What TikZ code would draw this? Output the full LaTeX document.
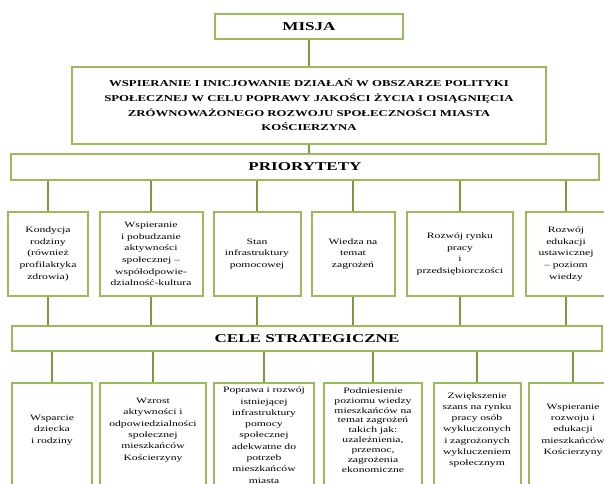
\documentclass[tikz,border=0pt]{standalone}
\usepackage{fontspec}
\setmainfont{Liberation Serif}[FakeStretch=1.42]
\usepackage{tikz}
\definecolor{ramka}{RGB}{155,187,89}
\definecolor{linia}{RGB}{122,155,66}
\newcommand{\odstep}{\endgraf\vspace*{56pt}}
\tikzstyle{box} = [rectangle, draw=ramka, line width=2pt, align=center, inner sep=2pt]
\tikzstyle{head} = [box, font=\fontsize{12}{14}\selectfont\bfseries]
\tikzstyle{prio} = [box, minimum height=84pt, font=\fontsize{8.2}{11.7}\selectfont]
\tikzstyle{cel} = [box, anchor=north, minimum height=150pt, inner ysep=4pt, font=\fontsize{8.2}{11.3}\selectfont, execute at end node=\odstep]
\tikzstyle{conn} = [draw=linia, line width=1.6pt]

\begin{document}
\begin{tikzpicture}[x=1pt, y=-1pt]
    \useasboundingbox (0,0) rectangle (604,483);
    \node (misja) [head, minimum width=188pt, minimum height=25pt] at (309,26.5) {MISJA};
    \node (opis) [box, minimum width=474pt, minimum height=77pt, font=\fontsize{9}{14.7}\selectfont\bfseries] at (309,105)
        {WSPIERANIE I INICJOWANIE DZIAŁAŃ W OBSZARZE POLITYKI\\SPOŁECZNEJ W CELU POPRAWY JAKOŚCI ŻYCIA I OSIĄGNIĘCIA\\ZRÓWNOWAŻONEGO ROZWOJU SPOŁECZNOŚCI MIASTA\\KOŚCIERZYNA};
    \node (prior) [head, minimum width=588pt, minimum height=26pt] at (305,167) {PRIORYTETY};

    % priorytety
    \node (p1) [prio, text width=76pt] at (48,254) {Kondycja\\rodziny\\(również\\profilaktyka\\zdrowia)};
    \node (p2) [prio, text width=99pt] at (151,254) {Wspieranie\\i pobudzanie\\aktywności\\społecznej –\\współodpowie-\\dzialność-kultura};
    \node (p3) [prio, text width=83pt] at (257,254) {Stan\\infrastruktury\\pomocowej};
    \node (p4) [prio, text width=79pt] at (353,254) {Wiedza na\\temat\\zagrożeń};
    \node (p5) [prio, text width=102pt] at (460,254) {Rozwój rynku\\pracy\\i\\przedsiębiorczości};
    \node (p6) [prio, text width=76pt] at (566,254) {Rozwój\\edukacji\\ustawicznej\\– poziom\\wiedzy};

    \node (strat) [head, minimum width=590pt, minimum height=25pt] at (307,338.5) {CELE STRATEGICZNE};

    % cele strategiczne
    \node (c1) [cel, text width=76pt] at (52,382) {Wsparcie\\dziecka\\i rodziny};
    \node (c2) [cel, text width=102pt] at (153,382) {Wzrost\\aktywności i\\odpowiedzialności\\społecznej\\mieszkańców\\Kościerzyny};
    \node (c3) [cel, text width=96pt] at (264,382) {Poprawa i rozwój\\istniejącej\\infrastruktury\\pomocy\\społecznej\\adekwatne do\\potrzeb\\mieszkańców\\miasta};
    \node (c4) [cel, text width=94pt, font=\fontsize{8.2}{9.9}\selectfont] at (373,382) {Podniesienie\\poziomu wiedzy\\mieszkańców na\\temat zagrożeń\\takich jak:\\uzależnienia,\\przemoc,\\zagrożenia\\ekonomiczne};
    \node (c5) [cel, text width=83pt] at (477,382) {Zwiększenie\\szans na rynku\\pracy osób\\wykluczonych\\i zagrożonych\\wykluczeniem\\społecznym};
    \node (c6) [cel, text width=84pt] at (573,382) {Wspieranie\\rozwoju i\\edukacji\\mieszkańców\\Kościerzyny};

    \draw [conn] (misja) -- (opis);
    \draw [conn] (opis.south) -- (prior.north -| opis.south);
    \draw [conn] (prior.south -| p1) -- (p1);
    \draw [conn] (prior.south -| p2) -- (p2);
    \draw [conn] (prior.south -| p3) -- (p3);
    \draw [conn] (prior.south -| p4) -- (p4);
    \draw [conn] (prior.south -| p5) -- (p5);
    \draw [conn] (prior.south -| p6) -- (p6);
    \draw [conn] (p1) -- (strat.north -| p1);
    \draw [conn] (p2) -- (strat.north -| p2);
    \draw [conn] (p3) -- (strat.north -| p3);
    \draw [conn] (p4) -- (strat.north -| p4);
    \draw [conn] (p5) -- (strat.north -| p5);
    \draw [conn] (p6) -- (strat.north -| p6);
    \draw [conn] (strat.south -| c1) -- (c1);
    \draw [conn] (strat.south -| c2) -- (c2);
    \draw [conn] (strat.south -| c3) -- (c3);
    \draw [conn] (strat.south -| c4) -- (c4);
    \draw [conn] (strat.south -| c5) -- (c5);
    \draw [conn] (strat.south -| c6) -- (c6);
\end{tikzpicture}
\end{document}
